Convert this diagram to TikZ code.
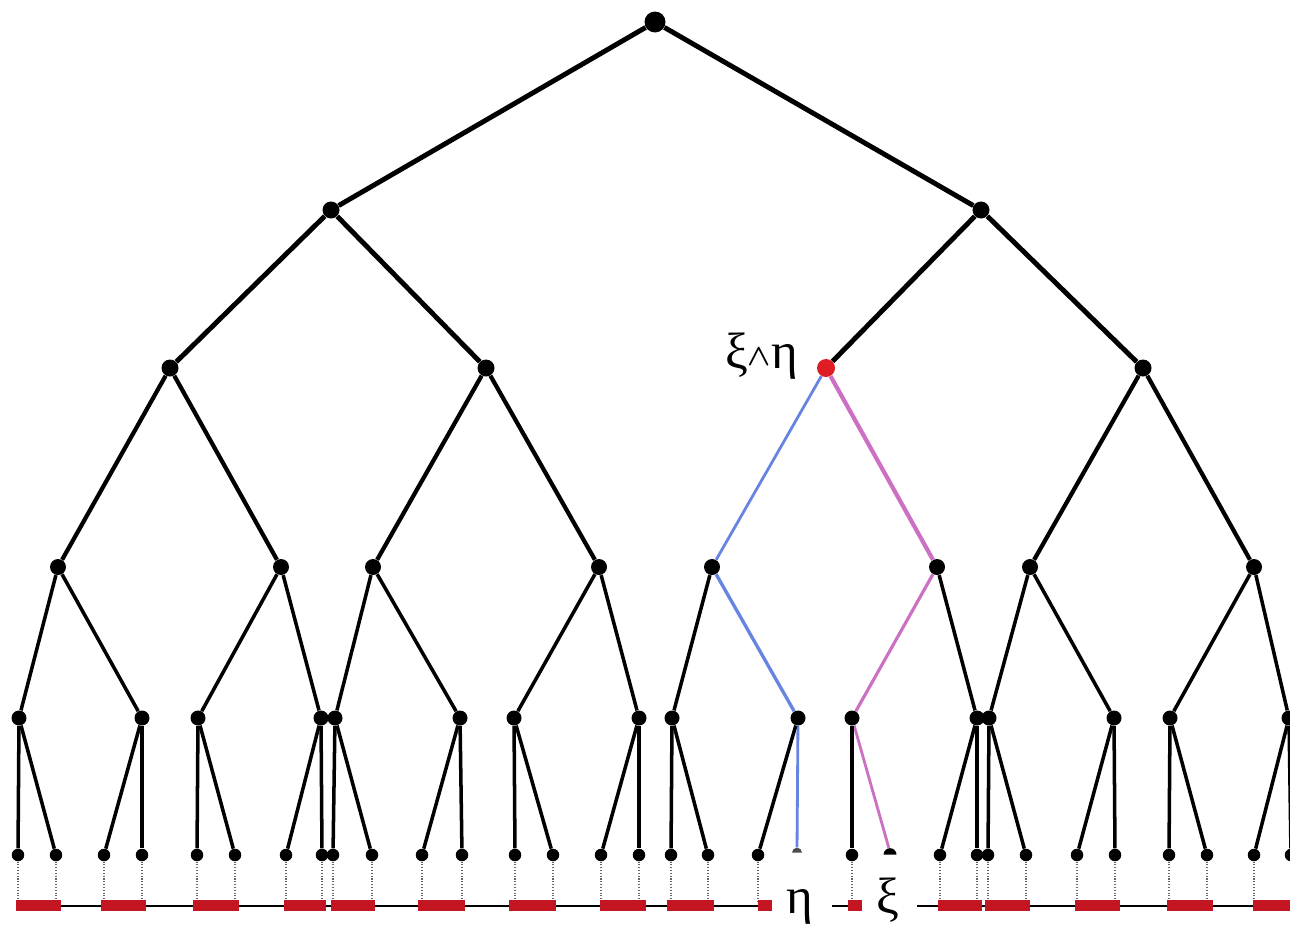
\documentclass[tikz,border=0pt]{standalone}
\usepackage{fontspec}
\setmainfont{Liberation Serif}
\usetikzlibrary{arrows.meta,shapes.geometric}
\definecolor{barred}{RGB}{196,22,34}
\definecolor{lcared}{RGB}{222,30,36}
\definecolor{etablue}{RGB}{104,132,226}
\definecolor{xipink}{RGB}{204,112,196}
\tikzset{
  bigdot/.style={circle, fill=black, inner sep=0pt, minimum size=0.42cm},
  dot/.style={circle, fill=black, inner sep=0pt, minimum size=0.34cm},
  leaf/.style={circle, fill=black, inner sep=0pt, minimum size=0.25cm},
  lcadot/.style={circle, fill=lcared, inner sep=0pt, minimum size=0.36cm},
  capdome/.style={semicircle, fill=black, inner sep=0pt, minimum size=0.13cm, anchor=chord center},
  topedge/.style={line width=2.8pt},
  midedge/.style={line width=2.4pt},
  lowedge/.style={line width=2pt},
  etapath/.style={etablue, line width=1.6pt},
  xipath/.style={xipink, line width=2.4pt},
  dropline/.style={densely dotted, black!60, line width=0.6pt},
  interval/.style={fill=barred},
  biglabel/.style={font=\fontsize{29}{31}\selectfont, inner sep=0pt}
}

\begin{document}
\begin{tikzpicture}[x=0.02cm, y=-0.02cm]
  \useasboundingbox (0,0) rectangle (1290,927);

  % upper levels
  \node[bigdot] (root) at (655,22) {};
  \node[dot] (a1) at (331,210) {};
  \node[dot] (a2) at (981,210) {};
  \node[dot] (b1) at (170,368) {};
  \node[dot] (b2) at (486,368) {};
  \node[lcadot] (b3) at (826,368) {};
  \node[dot] (b4) at (1143,368) {};
  \foreach \x [count=\i] in {58,281,373,599,712,937,1030,1254}
    \node[dot, minimum size=0.32cm] (c\i) at (\x,567) {};
  \foreach \x [count=\i] in {19,142,198,321,335,460,514,639,672,798,852,977,989,1114,1170,1289}
    \node[dot, minimum size=0.3cm] (d\i) at (\x,718) {};

  \draw[topedge] (root) -- (a1);
  \draw[topedge] (root) -- (a2);
  \draw[topedge] (a1) -- (b1);
  \draw[topedge] (a1) -- (b2);
  \draw[topedge] (a2) -- (b3);
  \draw[topedge] (a2) -- (b4);
  \foreach \p/\c in {b1/c1,b1/c2,b2/c3,b2/c4,b4/c7,b4/c8}
    \draw[midedge] (\p) -- (\c);
  \foreach \p/\c in {c1/d1,c1/d2,c2/d3,c2/d4,c3/d5,c3/d6,c4/d7,c4/d8,
                     c5/d9,c6/d12,c7/d13,c7/d14,c8/d15,c8/d16}
    \draw[lowedge] (\p) -- (\c);

  % the two paths below xi ^ eta
  \node[capdome, fill=black!70, minimum size=0.1cm] (etaend) at (797,853) {};
  \node[capdome] (xiend) at (890,855) {};
  \draw[etapath] (b3) -- (c5);
  \draw[etapath, line width=1.9pt] (c5) -- (d10);
  \draw[etapath] (d10) -- (etaend);
  \draw[xipath] (b3) -- (c6);
  \draw[xipath, line width=1.8pt] (c6) -- (d11);
  \draw[xipath, line width=1.6pt] (d11) -- (xiend);

  % leaves and drop lines
  \foreach \x/\p [count=\i] in {18/d1,56/d1,104/d2,142/d2,197/d3,235/d3,286/d4,322/d4,
                                333/d5,372/d5,422/d6,462/d6,515/d7,553/d7,601/d8,639/d8,
                                671/d9,708/d9,758/d10,852/d11,940/d12,977/d12,988/d13,1026/d13,
                                1077/d14,1115/d14,1169/d15,1207/d15,1254/d16,1291/d16}
  {
    \node[leaf] (l\i) at (\x,855) {};
    \coordinate (f\i) at (\x,901);
    \draw[lowedge] (\p) -- (l\i);
    \draw[dropline] (l\i) -- (f\i);
  }

  % the line with its intervals
  \draw[line width=0.9pt] (16,906) -- (772,906);
  \draw[line width=0.9pt] (832,906) -- (862,906);
  \draw[line width=0.9pt] (917,906) -- (1290,906);
  \foreach \u/\v in {16/61,101/146,193/239,284/326,331/375,418/465,509/556,600/646,
                     667/714,758/772,848/862,938/982,985/1030,1075/1120,1167/1213,1253/1295}
    \fill[interval] (\u,900) rectangle (\v,911);

  \node[biglabel, anchor=base east] (lcalabel) at (798,368)
    {ξ\raisebox{1.5pt}{\fontsize{17}{17}\selectfont\boldmath$\wedge$}η};
  \node[biglabel, anchor=base] (etalabel) at (800,913) {η};
  \node[biglabel, anchor=base] (xilabel) at (888,913) {ξ};
\end{tikzpicture}
\end{document}
